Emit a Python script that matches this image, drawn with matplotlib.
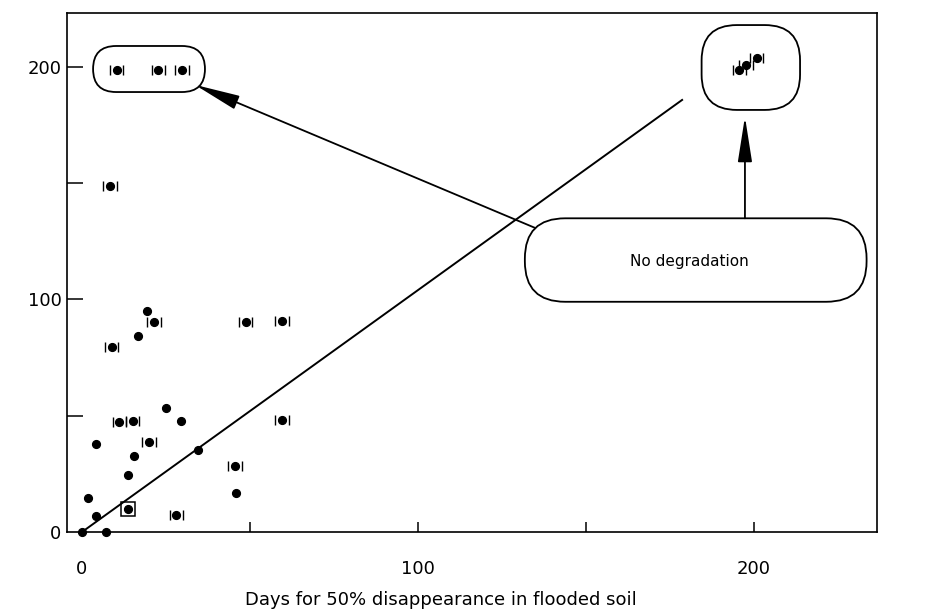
import numpy as np
import matplotlib.pyplot as plt
from matplotlib.patches import FancyBboxPatch

# days for 50% disappearance: flooded soil (x) vs the other soil (y)
flooded = [0, 7.1, 4.1, 1.8, 13.6, 28.1, 13.8, 15.4, 19.9, 4.1,
           11.1, 15.1, 24.9, 29.5, 34.6, 45.5, 45.8, 59.5, 19.4, 21.4,
           16.7, 8.8, 48.7, 59.5, 8.3, 10.3, 22.7, 29.7, 195.6, 197.6, 200.8]
other = [0, 0, 6.9, 14.8, 10.0, 7.3, 24.5, 32.8, 38.7, 38.0,
         47.3, 47.7, 53.5, 47.9, 35.3, 28.3, 16.6, 48.2, 95.1, 90.2,
         84.2, 79.7, 90.5, 90.8, 149, 198.7, 198.7, 198.7, 198.7, 200.9, 203.7]
ranged = [0, 0, 0, 0, 0, 1, 0, 0, 1, 0,
          1, 1, 0, 0, 0, 1, 0, 1, 0, 1,
          0, 1, 1, 1, 1, 1, 1, 1, 1, 1, 1]
range_half = 2.0
boxed_idx = 4

line_x = [0, 178.6]
line_y = [0, 185.8]

x_ticks = [0, 100, 200]
y_ticks = [0, 100, 200]
minor_ticks = [50, 150]

x = np.array(flooded)
y = np.array(other)
r = np.array(ranged, dtype=bool)

fig = plt.figure(figsize=(9.25, 6.14), dpi=100)
ax = fig.add_axes([67/925, 1 - 532/614, 810/925, 519.5/614])
ax.set_xlim(-4.46, 236.6)
ax.set_ylim(0, 223.4)

ax.plot(line_x, line_y, color='black', lw=1.4, zorder=2)
ax.plot(x, y, 'o', color='black', ms=5.6, zorder=3, clip_on=False)
ax.errorbar(x[r], y[r], xerr=range_half, fmt='none', elinewidth=0,
            ecolor='black', capsize=3.8, capthick=1.0, zorder=3)
ax.plot(x[boxed_idx], y[boxed_idx], 's', ms=10.5, mfc='none', mec='black', mew=1.1)

# rounded outlines around the "no degradation" groups
asp = 3.36 / 2.325
def rounded(x0, x1, y0, y1, rad):
    p = FancyBboxPatch((x0, y0), x1 - x0, y1 - y0,
                       boxstyle='round,pad=0,rounding_size=%g' % rad,
                       mutation_aspect=asp, fc='none', ec='black', lw=1.3, zorder=2)
    ax.add_patch(p)

rounded(3.3, 36.6, 189.2, 209.0, 6.85)
rounded(184.4, 213.7, 181.5, 218.0, 10.5)
rounded(131.8, 233.5, 99.0, 134.9, 12.0)
ax.text(180.7, 116.5, 'No degradation', ha='center', va='center', fontsize=11)

arrow = dict(arrowstyle='-|>,head_length=1.4,head_width=0.22', mutation_scale=20,
             color='black', lw=1.3, shrinkA=0, shrinkB=0)
ax.annotate('', xy=(33.6, 192.3), xytext=(134.8, 130.8), arrowprops=arrow)
ax.annotate('', xy=(197.3, 178.6), xytext=(197.3, 134.9), arrowprops=arrow)

ax.set_xticks(x_ticks)
ax.set_xticks(minor_ticks, minor=True)
ax.set_yticks(y_ticks)
ax.set_yticks(minor_ticks, minor=True)
ax.tick_params(axis='x', which='both', direction='in', length=7.5, width=1.1,
               labelsize=13, pad=20)
ax.tick_params(axis='y', which='both', direction='in', length=11.5, width=1.1,
               labelsize=13, pad=4)
ax.xaxis.get_major_ticks()[0].tick1line.set_visible(False)
ax.yaxis.get_major_ticks()[0].tick1line.set_visible(False)
for s in ax.spines.values():
    s.set_linewidth(1.2)

ax.set_xlabel('Days for 50% disappearance in flooded soil', fontsize=13)
ax.xaxis.set_label_coords(0.462, -0.113)

fig.savefig('out.png', dpi=100)
